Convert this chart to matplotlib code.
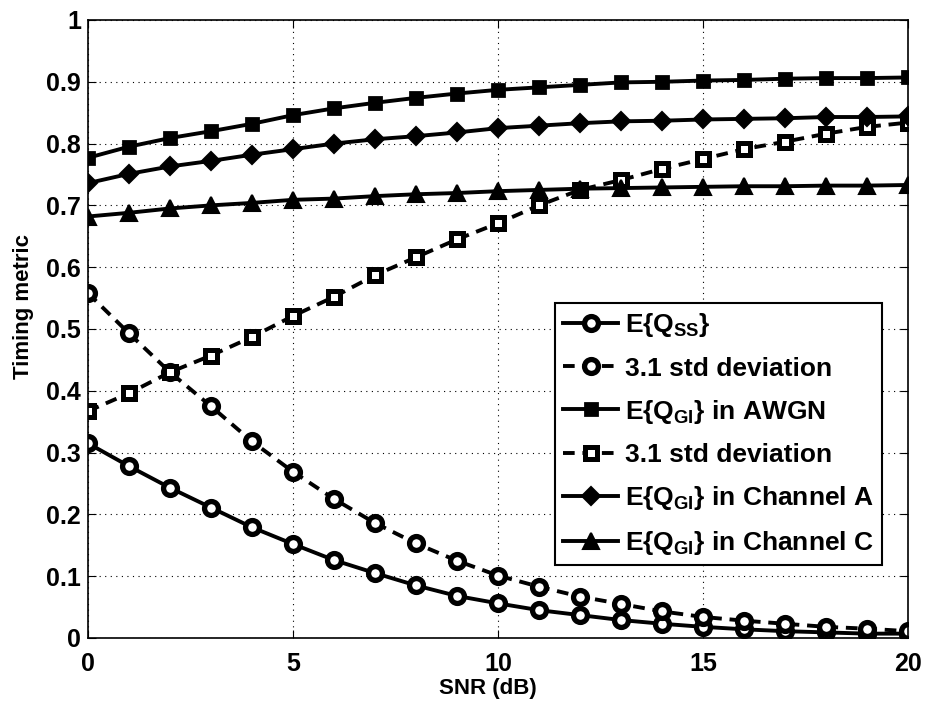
import matplotlib
matplotlib.use("Agg")
import matplotlib.pyplot as plt

plt.rcParams['font.family'] = ['Liberation Sans', 'DejaVu Sans']
plt.rcParams['font.weight'] = 'bold'
plt.rcParams['mathtext.fontset'] = 'custom'
plt.rcParams['mathtext.rm'] = 'Liberation Sans:bold'
plt.rcParams['mathtext.bf'] = 'Liberation Sans:bold'
plt.rcParams['mathtext.it'] = 'Liberation Sans:bold'

snr = list(range(21))

q_ss = [0.315, 0.278, 0.243, 0.211, 0.179, 0.152, 0.126, 0.105, 0.085, 0.068, 0.056,
        0.045, 0.037, 0.029, 0.023, 0.018, 0.014, 0.011, 0.009, 0.007, 0.007]
q_ss_std = [0.558, 0.493, 0.430, 0.375, 0.318, 0.269, 0.225, 0.186, 0.153, 0.125, 0.101,
            0.083, 0.067, 0.055, 0.043, 0.034, 0.028, 0.023, 0.018, 0.015, 0.011]
q_gi_awgn = [0.777, 0.795, 0.809, 0.820, 0.832, 0.846, 0.857, 0.866, 0.874, 0.881, 0.887,
             0.891, 0.895, 0.899, 0.900, 0.902, 0.903, 0.905, 0.906, 0.906, 0.907]
q_gi_std = [0.367, 0.396, 0.430, 0.457, 0.487, 0.521, 0.552, 0.587, 0.616, 0.645, 0.671,
            0.700, 0.725, 0.741, 0.759, 0.775, 0.791, 0.803, 0.816, 0.827, 0.834]
q_gi_a = [0.736, 0.751, 0.763, 0.772, 0.782, 0.791, 0.800, 0.807, 0.812, 0.818, 0.825,
          0.829, 0.833, 0.836, 0.837, 0.839, 0.840, 0.841, 0.843, 0.843, 0.844]
q_gi_c = [0.682, 0.688, 0.695, 0.700, 0.704, 0.709, 0.711, 0.715, 0.718, 0.720, 0.723,
          0.725, 0.727, 0.728, 0.729, 0.730, 0.731, 0.731, 0.732, 0.732, 0.733]

fig = plt.figure(figsize=(9.28, 7.04), dpi=100)
ax = fig.add_axes([0.0948, 0.0938, 0.8836, 0.8778])

lw = 2.8
dash = (0, (3, 2))
ax.plot(snr, q_ss, color='black', lw=lw, marker='o', ms=10, mfc='white', mec='black', mew=3.8,
        label=r'E{Q$_{\mathbf{SS}}$}')
ax.plot(snr, q_ss_std, color='black', lw=lw, ls=dash, marker='o', ms=10, mfc='white', mec='black', mew=3.8,
        label='3.1 std deviation')
ax.plot(snr, q_gi_awgn, color='black', lw=lw, marker='s', ms=9, mfc='black', mec='black', mew=2,
        label=r'E{Q$_{\mathbf{GI}}$} in AWGN')
ax.plot(snr, q_gi_std, color='black', lw=lw, ls=dash, marker='s', ms=9, mfc='white', mec='black', mew=3.6,
        label='3.1 std deviation')
ax.plot(snr, q_gi_a, color='black', lw=lw, marker='D', ms=9, mfc='black', mec='black', mew=1.5,
        label=r'E{Q$_{\mathbf{GI}}$} in Channel A')
ax.plot(snr, q_gi_c, color='black', lw=lw, marker='^', ms=12, mfc='black', mec='black', mew=1.5,
        label=r'E{Q$_{\mathbf{GI}}$} in Channel C')

ax.set_xlim(0, 20)
ax.set_ylim(0, 1)
ax.set_xticks(range(0, 21, 5))
ax.set_yticks([i / 10 for i in range(11)])
ax.set_yticklabels(['0', '0.1', '0.2', '0.3', '0.4', '0.5', '0.6', '0.7', '0.8', '0.9', '1'])
ax.tick_params(direction='in', top=True, right=True, labelsize=18, length=6)
ax.tick_params(axis='x', pad=10)
ax.tick_params(axis='y', pad=5)
for lab in ax.get_xticklabels() + ax.get_yticklabels():
    lab.set_fontweight('bold')
ax.grid(True, ls=(0, (1, 4)), color='black', lw=0.8)
for s in ax.spines.values():
    s.set_linewidth(1.2)

ax.set_xlabel('SNR (dB)', fontsize=16, fontweight='bold')
ax.set_ylabel('Timing metric', fontsize=16, fontweight='bold')
ax.xaxis.set_label_coords(0.488, -0.064)
ax.yaxis.set_label_coords(-0.066, 0.537)

leg = ax.legend(loc='lower right', bbox_to_anchor=(0.968, 0.118), fontsize=19, frameon=True,
                fancybox=False, edgecolor='black', framealpha=1, handlelength=2.1,
                labelspacing=0.65, borderaxespad=0, handletextpad=0.25, borderpad=0.3)
leg.get_frame().set_linewidth(1.5)
for t in leg.get_texts():
    t.set_fontweight('bold')

fig.savefig('out.png', dpi=100)
